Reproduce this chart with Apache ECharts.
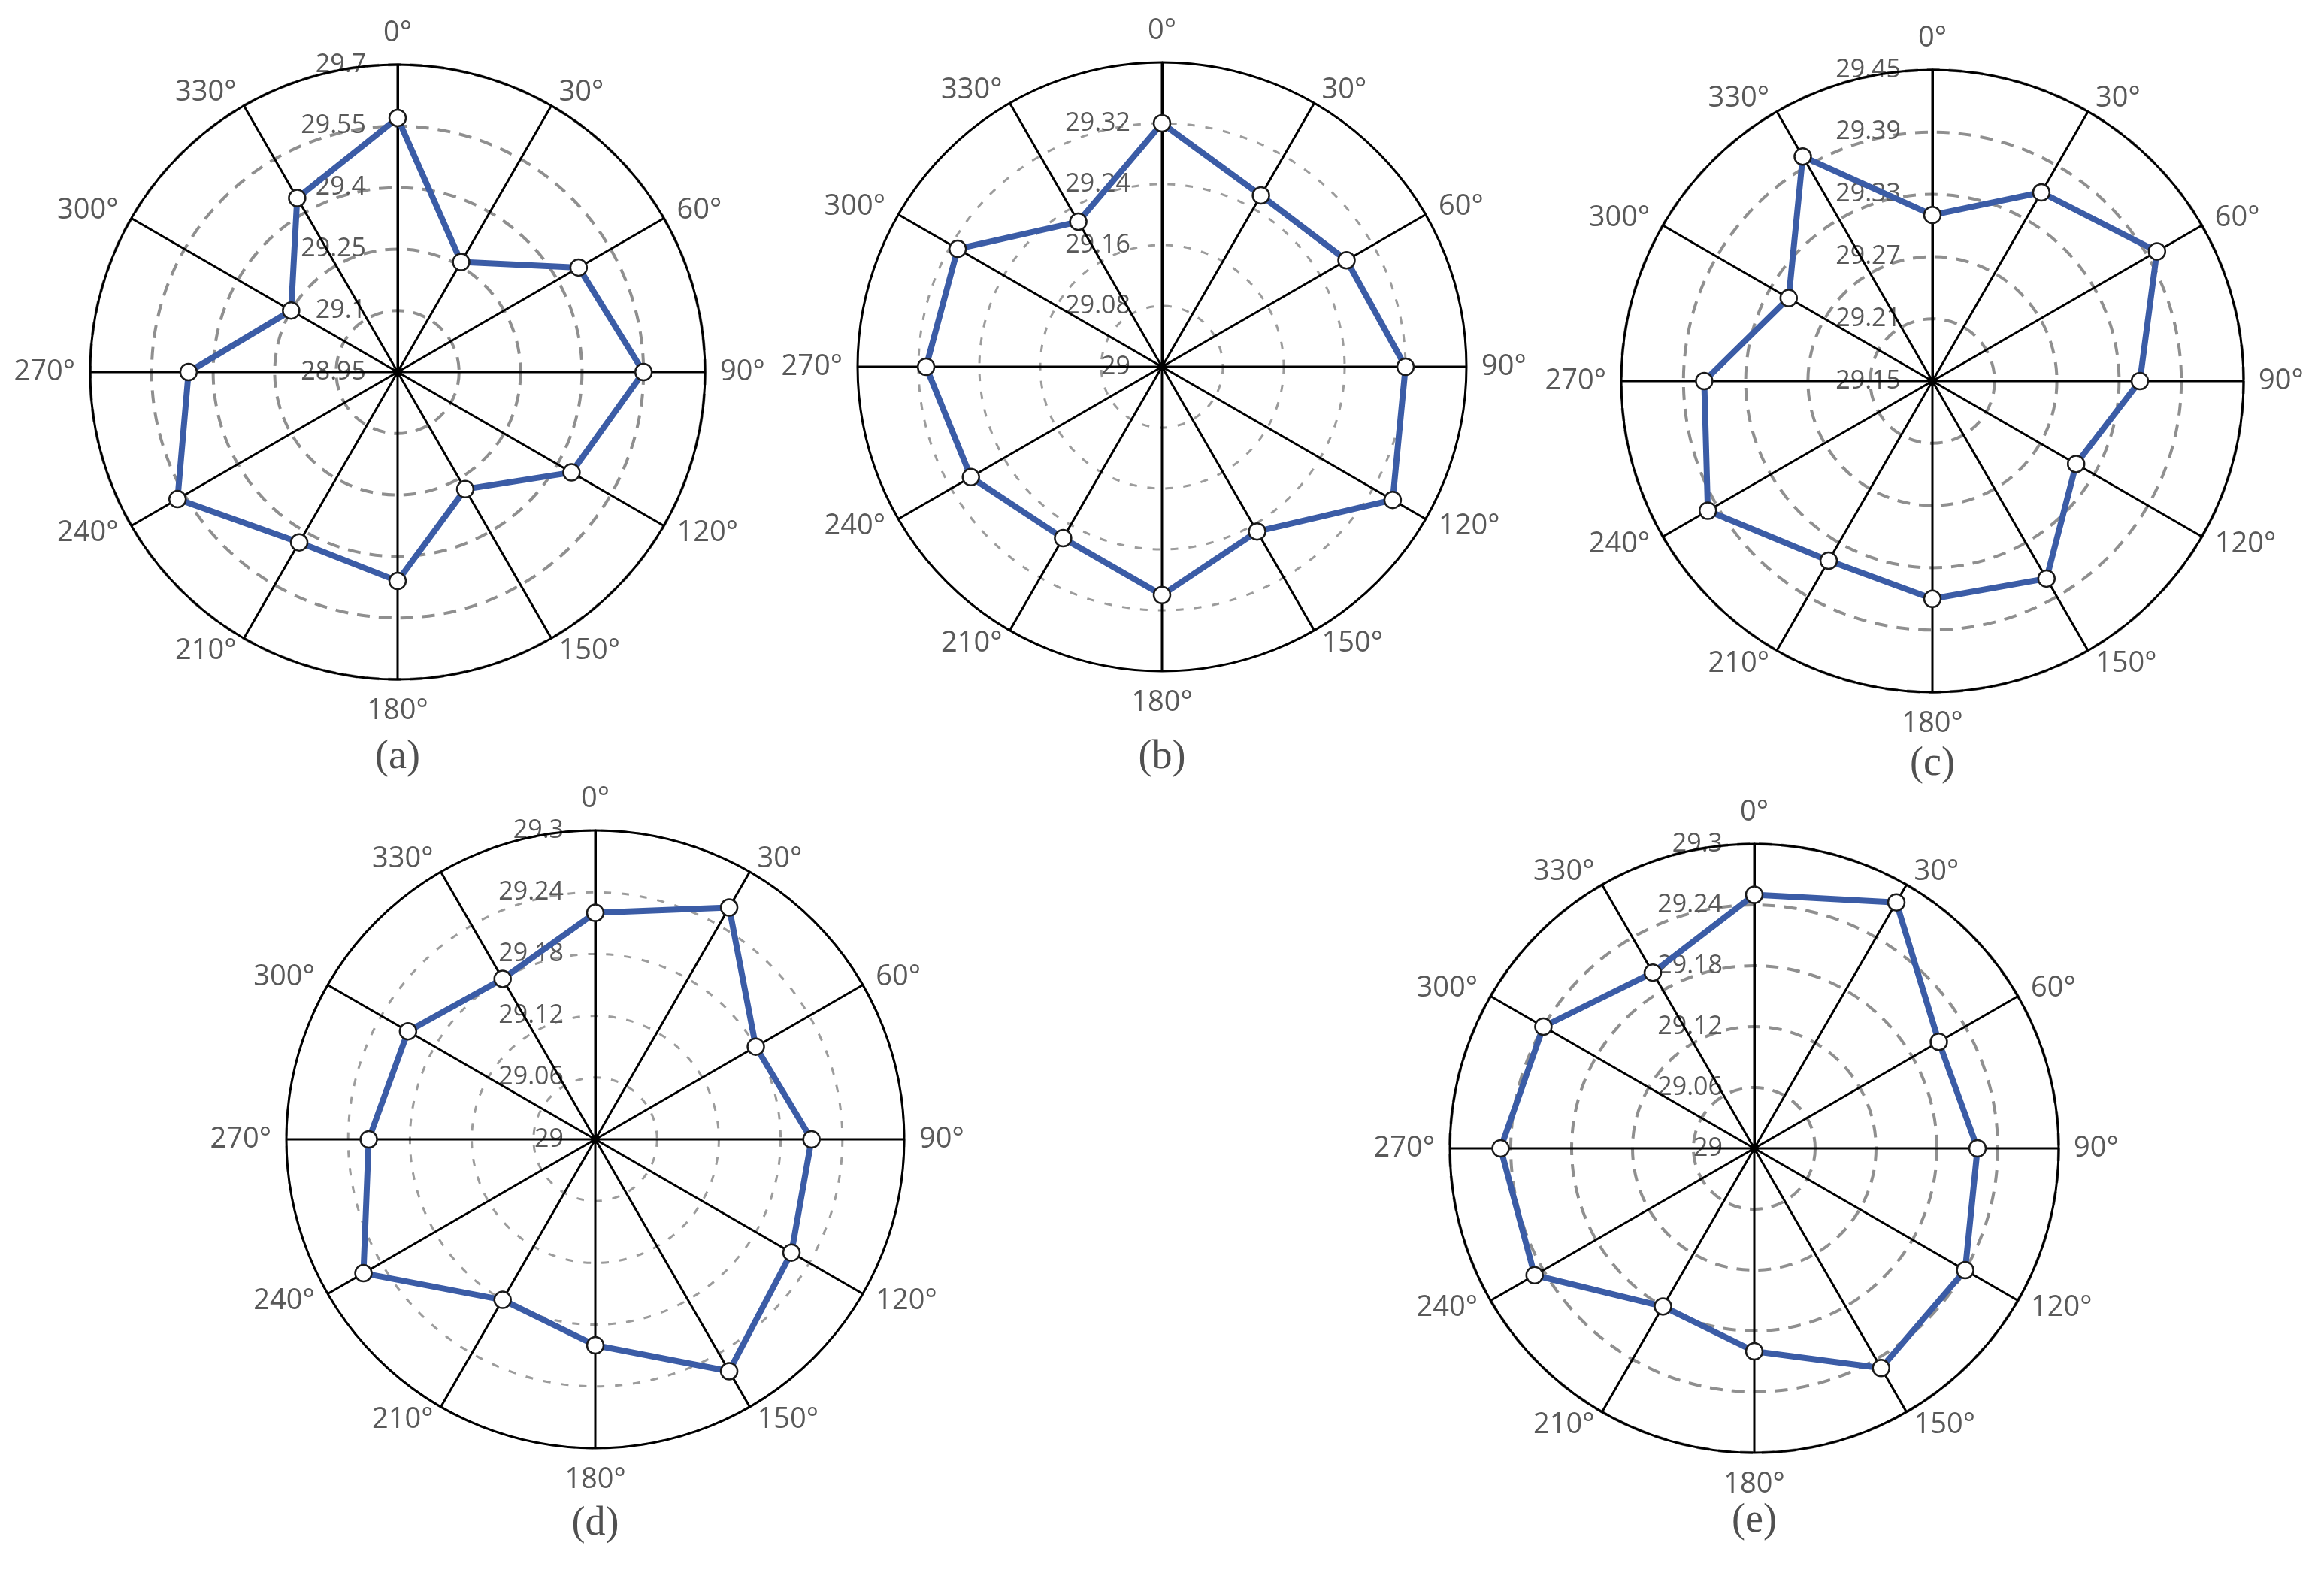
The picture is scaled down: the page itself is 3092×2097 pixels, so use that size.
<!DOCTYPE html>
<html><head><meta charset="utf-8">
<script src="https://cdn.jsdelivr.net/npm/echarts@6/dist/echarts.min.js"></script>
<style>html,body{margin:0;padding:0;background:#fff}#c{width:3092px;height:2097px}</style>
</head><body><div id="c"></div>
<script>
// ---- data ----
const angles = [0, 30, 60, 90, 120, 150, 180, 210, 240, 270, 300, 330];

const valuesA = [29.57, 29.26, 29.46, 29.55, 29.44, 29.28, 29.46, 29.43, 29.57, 29.46, 29.25, 29.44];
const valuesB = [29.32, 29.26, 29.28, 29.32, 29.35, 29.25, 29.30, 29.26, 29.29, 29.31, 29.31, 29.22];
const valuesC = [29.31, 29.36, 29.40, 29.35, 29.31, 29.37, 29.36, 29.35, 29.40, 29.37, 29.31, 29.40];
const valuesD = [29.22, 29.26, 29.18, 29.21, 29.22, 29.26, 29.20, 29.18, 29.26, 29.22, 29.21, 29.18];
const valuesE = [29.25, 29.28, 29.21, 29.22, 29.24, 29.25, 29.20, 29.18, 29.25, 29.25, 29.24, 29.20];

const ticksA = [28.95, 29.1, 29.25, 29.4, 29.55, 29.7];
const ticksB = [29, 29.08, 29.16, 29.24, 29.32];
const ticksC = [29.15, 29.21, 29.27, 29.33, 29.39, 29.45];
const ticksD = [29, 29.06, 29.12, 29.18, 29.24, 29.3];
const ticksE = [29, 29.06, 29.12, 29.18, 29.24, 29.3];

const rangeA = [28.95, 29.7];
const rangeB = [29, 29.40];
const rangeC = [29.15, 29.45];
const rangeD = [29, 29.3];
const rangeE = [29, 29.3];

const panelLabels = ['(a)', '(b)', '(c)', '(d)', '(e)'];

// ---- layout / style ----
const panels = [
  { vals: valuesA, ticks: ticksA, range: rangeA, center: [529, 495], r: 409, lab: [529, 1008], dash: [17, 12], dw: 4, dc: '#8f8f8f' },
  { vals: valuesB, ticks: ticksB, range: rangeB, center: [1546, 488], r: 405, lab: [1546, 1008], dash: [10, 14], dw: 3, dc: '#9c9c9c' },
  { vals: valuesC, ticks: ticksC, range: rangeC, center: [2571, 507], r: 414, lab: [2571, 1017], dash: [17, 12], dw: 4, dc: '#8f8f8f' },
  { vals: valuesD, ticks: ticksD, range: rangeD, center: [792, 1516], r: 411, lab: [792, 2028], dash: [10, 14], dw: 3, dc: '#9c9c9c' },
  { vals: valuesE, ticks: ticksE, range: rangeE, center: [2334, 1528], r: 405, lab: [2334, 2024], dash: [17, 12], dw: 4, dc: '#8f8f8f' }
];

const gray = '#595959';
const sans = '"Open Sans", "Noto Sans", sans-serif';
const angFont = 38;

// rich styles that place each angle label centred beside its ray
const LM = -18, GAP = 20, GAP0 = 42;
const angleRich = {};
angles.forEach(v => {
  const t = v * Math.PI / 180, s = Math.sin(t), c = Math.cos(t);
  const pad = [0, 0, 0, 0];
  const centred = Math.abs(s) < 0.3;
  if (!centred) { if (s > 0) pad[3] = (GAP - LM) * Math.abs(s); else pad[1] = (GAP - LM) * Math.abs(s); }
  if (Math.abs(c) >= 0.3) {
    const p = ((centred ? GAP0 : GAP) - LM) * Math.abs(c) - angFont / 2;
    if (c > 0) pad[2] = Math.max(0, p); else pad[0] = Math.max(0, p);
  }
  angleRich['a' + v] = { padding: pad, color: gray, fontSize: angFont, fontFamily: sans };
});

const polar = [], angleAxis = [], radiusAxis = [], series = [], graphic = [];
panels.forEach((p, i) => {
  polar.push({ center: p.center, radius: p.r });
  angleAxis.push({
    polarIndex: i, type: 'value', min: 0, max: 360, interval: 30,
    startAngle: 90, clockwise: true,
    axisLine: { show: true, lineStyle: { color: '#000', width: 3 } },
    axisTick: { show: false },
    axisLabel: {
      formatter: v => (v === 360 ? '' : '{a' + v + '|' + v + '°}'),
      rich: angleRich, color: gray, fontSize: angFont, fontFamily: sans, margin: LM
    },
    splitLine: { show: true, lineStyle: { color: '#000', width: 3 } },
    z: 3
  });
  radiusAxis.push({
    polarIndex: i, type: 'value', min: p.range[0], max: p.range[1],
    axisLine: { show: true, lineStyle: { color: '#000', width: 3 } },
    axisTick: { show: false, customValues: p.ticks },
    axisLabel: { customValues: p.ticks, formatter: v => String(+(+v).toFixed(2)), color: gray, fontSize: 34, fontFamily: sans, margin: 42 },
    splitLine: { show: true, lineStyle: { color: p.dc, width: p.dw, type: p.dash } },
    z: 2
  });
  const data = p.vals.map((v, k) => [v, angles[k]]);
  data.push({ value: [p.vals[0], 360], symbol: 'none' });
  series.push({
    type: 'line', coordinateSystem: 'polar', polarIndex: i,
    data: data,
    symbol: 'circle', symbolSize: 22,
    itemStyle: { color: '#fff', borderColor: '#1a1a1a', borderWidth: 2.5 },
    lineStyle: { color: '#3b5ca6', width: 8 },
    z: 10, animation: false
  });
  graphic.push({
    type: 'text', x: p.lab[0], y: p.lab[1],
    style: { text: panelLabels[i], fill: '#505050', font: '54px "Liberation Serif", "DejaVu Serif", serif', textAlign: 'center', textVerticalAlign: 'middle' }
  });
});

const chart = echarts.init(document.getElementById('c'));
chart.setOption({ animation: false, backgroundColor: '#fff', polar, angleAxis, radiusAxis, series, graphic });
</script>
</body></html>
